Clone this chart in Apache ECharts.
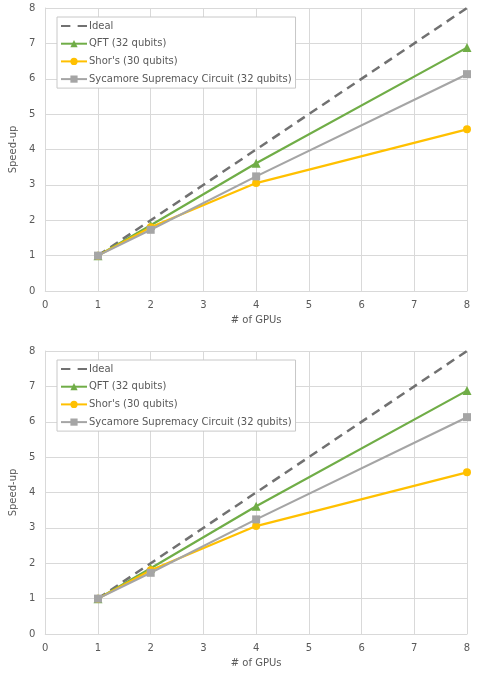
<!DOCTYPE html>
<html><head><meta charset="utf-8">
<script src="https://cdn.jsdelivr.net/npm/echarts@6/dist/echarts.min.js"></script>
<style>html,body{margin:0;padding:0;background:#fff}#c{width:491px;height:681px}</style>
</head><body><div id="c"></div>
<script>
const gpus = [1, 2, 4, 8];
const ideal = [1, 2, 4, 8];
const qft = [1, 1.86, 3.61, 6.88];
const shors = [1, 1.8, 3.05, 4.57];
const sycamore = [1, 1.73, 3.24, 6.13];
const xTicks = [0, 1, 2, 3, 4, 5, 6, 7, 8];
const seriesNames = ['Ideal', 'QFT (32 qubits)', "Shor's (30 qubits)", 'Sycamore Supremacy Circuit (32 qubits)'];

const FONT = 'DejaVu Sans';
const txt = '#595959';
const grid = '#d9d9d9';
const pts = arr => gpus.map((g, i) => [g, arr[i]]);

function axesFor(i) {
  const x = {
    type: 'value', gridIndex: i, min: 0, max: 8, interval: 1,
    name: '# of GPUs', nameLocation: 'middle', nameGap: 24,
    nameTextStyle: { color: txt, fontSize: 10, fontFamily: FONT },
    axisLine: { show: true, lineStyle: { color: grid } },
    axisTick: { show: false },
    axisLabel: { color: txt, fontSize: 10, fontFamily: FONT, margin: 9 },
    splitLine: { show: true, lineStyle: { color: grid, width: 1 } }
  };
  const y = {
    type: 'value', gridIndex: i, min: 0, max: 8, interval: 1,
    name: 'Speed-up', nameLocation: 'middle', nameGap: 25,
    nameTextStyle: { color: txt, fontSize: 10, fontFamily: FONT },
    axisLine: { show: true, lineStyle: { color: grid } },
    axisTick: { show: false },
    axisLabel: { color: txt, fontSize: 10, fontFamily: FONT, margin: 10 },
    splitLine: { show: true, lineStyle: { color: grid, width: 1 } }
  };
  return [x, y];
}

function seriesFor(i) {
  return [
    { name: seriesNames[0], type: 'line', xAxisIndex: i, yAxisIndex: i, data: pts(ideal),
      symbol: 'none', lineStyle: { color: '#717171', width: 2.5, type: [9, 6] }, itemStyle: { color: '#717171' }, z: 1 },
    { name: seriesNames[1], type: 'line', xAxisIndex: i, yAxisIndex: i, data: pts(qft),
      symbol: 'triangle', symbolSize: 9, lineStyle: { color: '#70ad47', width: 2.2 }, itemStyle: { color: '#70ad47' }, z: 2 },
    { name: seriesNames[2], type: 'line', xAxisIndex: i, yAxisIndex: i, data: pts(shors),
      symbol: 'circle', symbolSize: 8, lineStyle: { color: '#ffc000', width: 2.2 }, itemStyle: { color: '#ffc000' }, z: 3 },
    { name: seriesNames[3], type: 'line', xAxisIndex: i, yAxisIndex: i, data: pts(sycamore),
      symbol: 'rect', symbolSize: 8, lineStyle: { color: '#a5a5a5', width: 2.2 }, itemStyle: { color: '#a5a5a5' }, z: 4 }
  ];
}

function legendFor(top) {
  return {
    data: [
      { name: seriesNames[0], icon: 'path://M0,3.5H9V5.5H0Z M16,3.5H25V5.5H16Z', itemStyle: { color: '#717171' } },
      seriesNames[1], seriesNames[2], seriesNames[3]
    ],
    orient: 'vertical', left: 57, top: top,
    itemWidth: 26, itemHeight: 9, itemGap: 7.7,
    padding: [4, 4, 4, 3],
    borderColor: '#c8c8c8', borderWidth: 1, backgroundColor: '#fff',
    textStyle: { color: txt, fontSize: 10, fontFamily: FONT, padding: [0, 0, 0, -3] }
  };
}

const a0 = axesFor(0), a1 = axesFor(1);
const chart = echarts.init(document.getElementById('c'), null, { renderer: 'canvas' });
chart.setOption({
  animation: false,
  backgroundColor: '#fff',
  grid: [
    { left: 45, right: 24, top: 8, height: 283 },
    { left: 45, right: 24, top: 351, height: 283 }
  ],
  xAxis: [a0[0], a1[0]],
  yAxis: [a0[1], a1[1]],
  legend: [legendFor(17), legendFor(360)],
  series: seriesFor(0).concat(seriesFor(1))
});
</script></body></html>
